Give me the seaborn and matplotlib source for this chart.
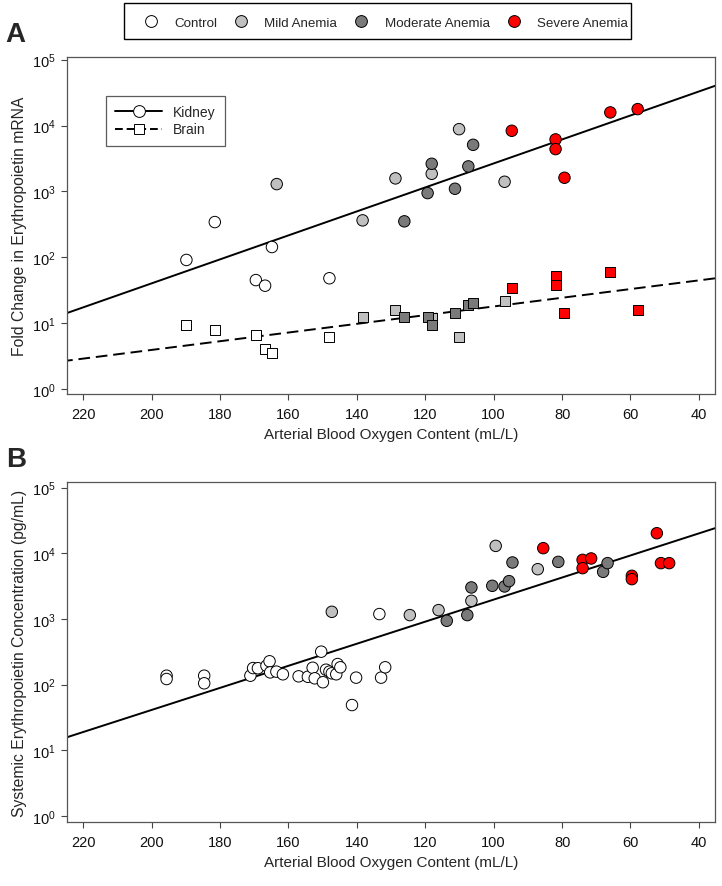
import numpy as np
import pandas as pd
import matplotlib
matplotlib.use("Agg")
import matplotlib.pyplot as plt
from matplotlib.lines import Line2D
from matplotlib.patches import Rectangle
import seaborn as sns

sns.set_style("ticks")
plt.rcParams['font.family'] = ['Liberation Sans', 'DejaVu Sans']
plt.rcParams['mathtext.default'] = 'regular'

# ---------------- data ----------------
groups = ["Control", "Mild Anemia", "Moderate Anemia", "Severe Anemia"]
group_colors = ["#ffffff", "#c0c0c0", "#7a7a7a", "#ff0000"]

# Panel A – kidney EPO mRNA fold change
kid_x = [189.8, 181.5, 169.5, 166.8, 164.8, 148.0,
         163.4, 138.3, 128.7, 118.1, 110.1, 96.8,
         126.1, 119.3, 118.1, 111.3, 107.4, 106.0,
         94.7, 81.9, 81.9, 79.3, 65.9, 57.9]
kid_y = [91, 342, 45, 37, 143, 48,
         1290, 363, 1575, 1850, 8800, 1400,
         351, 942, 2625, 1096, 2394, 5094,
         8318, 6150, 4385, 1610, 15800, 17740]
kid_g = ["Control"] * 6 + ["Mild Anemia"] * 6 + ["Moderate Anemia"] * 6 + ["Severe Anemia"] * 6

# Panel A – brain EPO mRNA fold change
brn_x = [189.8, 181.5, 169.5, 166.8, 164.8, 148.0,
         138.3, 128.7, 118.1, 110.1, 96.8,
         126.1, 119.3, 118.1, 111.3, 107.4, 106.0,
         94.7, 81.9, 81.9, 79.3, 65.9, 57.9]
brn_y = [9.4, 7.9, 6.6, 4.05, 3.5, 6.2,
         12.2, 15.8, 12.0, 6.2, 21.4,
         12.5, 12.5, 9.5, 14.1, 19.0, 20.0,
         34.1, 51.3, 37.9, 14.2, 59.0, 15.8]
brn_g = ["Control"] * 6 + ["Mild Anemia"] * 5 + ["Moderate Anemia"] * 6 + ["Severe Anemia"] * 6

# Panel B – plasma EPO concentration
pl_x = [195.6, 195.6, 184.6, 184.6, 171.1, 170.3, 168.9, 166.4, 165.5, 165.3,
        163.5, 161.6, 157.0, 154.3, 152.9, 152.3, 150.4, 149.9, 149.0, 148.0,
        147.3, 146.0, 145.6, 144.8, 141.4, 140.2, 133.4, 132.9, 131.7,
        147.3, 124.5, 116.1, 106.5, 99.4, 87.1,
        113.7, 107.7, 106.5, 100.4, 96.8, 95.5, 94.5, 81.1, 68.0, 66.7,
        85.5, 74.0, 74.0, 71.5, 59.6, 59.6, 52.3, 51.1, 48.7]
pl_y = [137, 122, 137, 105, 137, 179, 178, 194, 227, 154,
        158, 144, 134, 132, 181, 125, 318, 109, 169, 158,
        149, 144, 206, 184, 49, 128, 1188, 128, 184,
        1286, 1146, 1365, 1891, 12960, 5730,
        939, 1146, 3020, 3197, 3128, 3767, 7244, 7400, 5220, 7080,
        11960, 7940, 5940, 8340, 4540, 4040, 20200, 7080, 7080]
pl_g = (["Control"] * 29 + ["Mild Anemia"] * 6 + ["Moderate Anemia"] * 10
        + ["Severe Anemia"] * 9)

# log10-linear fit lines: log10(y) = a + b*x
kid_fit = [5.245, -0.01821]
brn_fit = [1.913, -0.0066]
pl_fit = [4.975, -0.0168]

x_ticks = [220, 200, 180, 160, 140, 120, 100, 80, 60, 40]
y_ticks = [1, 10, 100, 1000, 10000, 100000]
y_ticklabels = [r"$10^{0}$", r"$10^{1}$", r"$10^{2}$", r"$10^{3}$", r"$10^{4}$", r"$10^{5}$"]

# ---------------- figure ----------------
W, H = 722, 887
fig = plt.figure(figsize=(W / 100, H / 100), dpi=100)

def ax_rect(l, t, r, b):
    return [l / W, 1 - b / H, (r - l) / W, (b - t) / H]

axA = fig.add_axes(ax_rect(67, 58, 715, 395))
axB = fig.add_axes(ax_rect(67, 483, 715, 823))
palette = dict(zip(groups, group_colors))
xl = (224.7, 35.3)
xfit = np.array(xl)

dfK = pd.DataFrame({"x": kid_x, "y": kid_y, "g": kid_g})
dfB = pd.DataFrame({"x": brn_x, "y": brn_y, "g": brn_g})
dfP = pd.DataFrame({"x": pl_x, "y": pl_y, "g": pl_g})

CS = 68   # circle marker area
SS = 52   # square marker area

# Panel A lines
sns.lineplot(x=xfit, y=10 ** (kid_fit[0] + kid_fit[1] * xfit), ax=axA,
             color="black", lw=1.4, zorder=1)
sns.lineplot(x=xfit, y=10 ** (brn_fit[0] + brn_fit[1] * xfit), ax=axA,
             color="black", lw=1.4, linestyle=(0, (6, 3)), zorder=1)
sns.scatterplot(data=dfB, x="x", y="y", hue="g", palette=palette, marker="s",
                s=SS, edgecolor="black", linewidth=0.7, legend=False, ax=axA, zorder=3)
sns.scatterplot(data=dfK, x="x", y="y", hue="g", palette=palette, marker="o",
                s=CS, edgecolor="black", linewidth=0.7, legend=False, ax=axA, zorder=3)

# Panel B
sns.lineplot(x=xfit, y=10 ** (pl_fit[0] + pl_fit[1] * xfit), ax=axB,
             color="black", lw=1.4, zorder=1)
sns.scatterplot(data=dfP, x="x", y="y", hue="g", palette=palette, marker="o",
                s=CS, edgecolor="black", linewidth=0.7, legend=False, ax=axB, zorder=3)

for ax, yl, ylab in [(axA, (10 ** -0.076, 10 ** 5.04), "Fold Change in Erythropoietin mRNA"),
                     (axB, (10 ** -0.09, 10 ** 5.085), "Systemic Erythropoietin Concentration (pg/mL)")]:
    ax.set_yscale("log")
    ax.set_xlim(*xl)
    ax.set_ylim(*yl)
    ax.set_xticks(x_ticks)
    ax.set_xticklabels([str(v) for v in x_ticks])
    ax.set_yticks(y_ticks)
    ax.set_yticklabels(y_ticklabels)
    ax.yaxis.set_minor_locator(matplotlib.ticker.NullLocator())
    ax.tick_params(axis="both", direction="out", length=4.5, width=0.8,
                   labelsize=10.5, colors="#444444", labelcolor="#111111", pad=3.5)
    ax.tick_params(axis="x", pad=5)
    for sp in ax.spines.values():
        sp.set_visible(True)
        sp.set_color("#555555")
        sp.set_linewidth(0.9)
    ax.set_xlabel("Arterial Blood Oxygen Content (mL/L)", fontsize=11, labelpad=4)
    ax.set_ylabel(ylab, fontsize=11.3, labelpad=3.5)

# inner legend panel A
inner = [Line2D([0], [0], color="black", lw=1.4, marker="o", markersize=8.5,
                markerfacecolor="white", markeredgecolor="black", markeredgewidth=0.7),
         Line2D([0], [0], color="black", lw=1.4, linestyle=(0, (4, 2)), marker="s",
                markersize=7.5, markerfacecolor="white", markeredgecolor="black",
                markeredgewidth=0.7)]
legA = axA.legend(inner, ["Kidney", "Brain"], loc="upper left",
                  bbox_to_anchor=((106 - 67) / 648, 1 - (97 - 58) / 337),
                  borderaxespad=0,
                  frameon=True, fancybox=False, edgecolor="#333333",
                  fontsize=10, handlelength=3.4, borderpad=0.65, labelspacing=0.25,
                  handletextpad=0.8)
legA.get_frame().set_linewidth(0.9)

# top legend (frame drawn as a separate box)
top = [Line2D([0], [0], linestyle="none", marker="o", markersize=8.5,
              markerfacecolor=c, markeredgecolor="black", markeredgewidth=0.7)
       for c in group_colors]
legT = fig.legend(top, groups, loc="center", bbox_to_anchor=(386 / W, 1 - 23.5 / H),
                  ncol=4, frameon=False, fontsize=9.6, handlelength=1.0,
                  columnspacing=1.3, handletextpad=1.25, borderpad=0.3)
fig.patches.append(Rectangle((124 / W, 1 - 40 / H), (631 - 124) / W, 36 / H,
                             transform=fig.transFigure, fill=False,
                             edgecolor="black", linewidth=1.0))

fig.text(5 / W, 1 - 35 / H, "A", fontsize=20, fontweight="bold", va="center",
         family=["Liberation Sans Narrow", "Liberation Sans"])
fig.text(6 / W, 1 - 460 / H, "B", fontsize=20, fontweight="bold", va="center",
         family=["Liberation Sans Narrow", "Liberation Sans"])

fig.savefig("out.png", dpi=100)
